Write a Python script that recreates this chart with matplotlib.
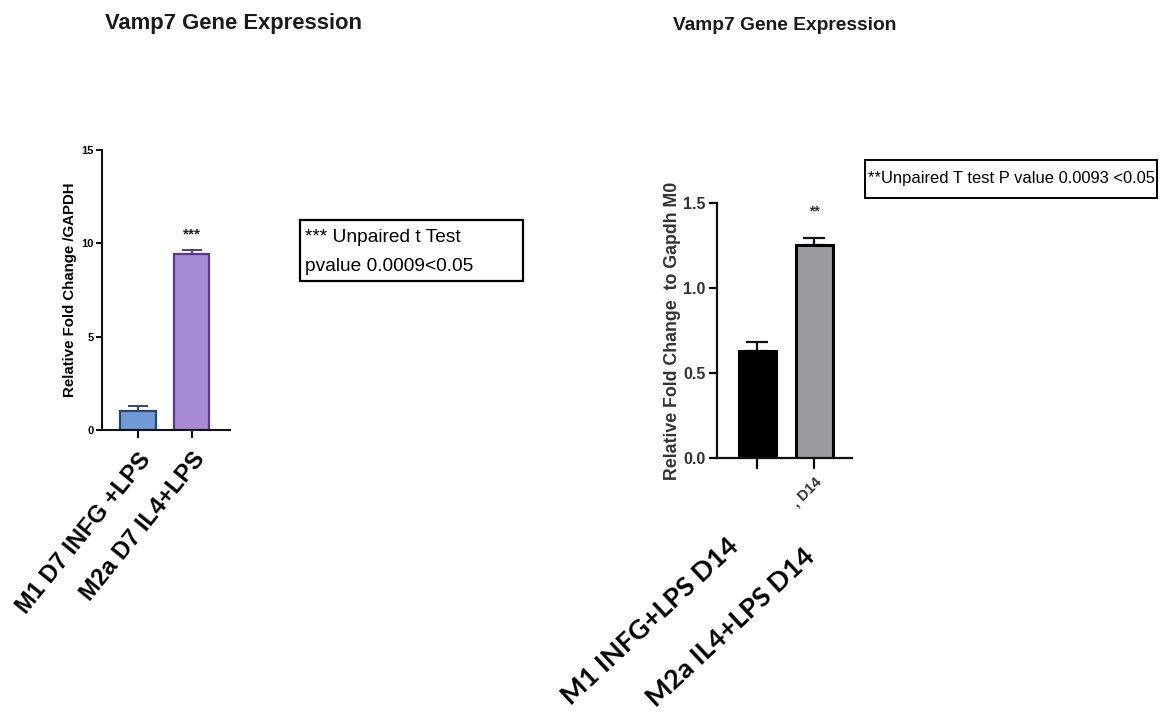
import matplotlib
matplotlib.use("Agg")
import matplotlib.pyplot as plt
from matplotlib.patches import Rectangle
import matplotlib.transforms as mtransforms
import numpy as np

# --- data ---------------------------------------------------------------
d7_groups = ["M1 D7 INFG +LPS", "M2a D7 IL4+LPS"]
d7_mean = [1.0, 9.43]
d7_err = [0.27, 0.21]
d7_face = ["#709bd6", "#a68ad4"]
d7_edge = ["#2c4672", "#573a8a"]
d7_yticks = [0, 5, 10, 15]

d14_groups = ["M1 INFG+LPS D14", "M2a IL4+LPS D14"]
d14_tick_text = ["", ", D14"]
d14_mean = [0.63, 1.25]
d14_err = [0.05, 0.04]
d14_face = ["#000000", "#9c9ca0"]
d14_yticks = [0.0, 0.5, 1.0, 1.5]

W, H = 1162, 713
ARIAL = ["Liberation Sans", "DejaVu Sans"]
plt.rcParams["font.family"] = ARIAL

fig = plt.figure(figsize=(W / 100, H / 100), dpi=100)


def rect(x0, x1, ytop, ybot):
    return [x0 / W, 1 - ybot / H, (x1 - x0) / W, (ybot - ytop) / H]


def fx(px):
    return px / W


def fy(py):
    return 1 - py / H


def style_axes(ax, lw):
    for s in ("top", "right"):
        ax.spines[s].set_visible(False)
    for s in ("left", "bottom"):
        ax.spines[s].set_linewidth(lw)
        ax.spines[s].set_color("#111111")


def framed_box(x0, x1, ytop, ybot, lw):
    fig.add_artist(Rectangle((fx(x0), fy(ybot)), fx(x1) - fx(x0),
                             fy(ytop) - fy(ybot), transform=fig.transFigure,
                             facecolor="white", edgecolor="black",
                             linewidth=lw))


# --- Day 7 panel --------------------------------------------------------
ax1 = fig.add_axes(rect(101.7, 230, 150, 430))
x1 = np.arange(len(d7_groups))
ax1.bar(x1, d7_mean, width=0.67, color=d7_face, edgecolor=d7_edge,
        linewidth=1.6, zorder=2)
for i in range(len(x1)):
    ax1.errorbar(x1[i], d7_mean[i], yerr=[[0], [d7_err[i]]], fmt="none",
                 ecolor=d7_edge[i], elinewidth=1.4, capsize=7, capthick=1.4,
                 zorder=1)
ax1.set_xlim(-0.68, 1.72)
ax1.set_ylim(0, 15)
ax1.set_yticks(d7_yticks)
ax1.set_yticklabels([str(v) for v in d7_yticks], fontsize=8, fontweight="bold")
ax1.set_xticks(x1)
ax1.set_xticklabels(d7_groups, rotation=51, ha="right", va="top",
                    rotation_mode="anchor", fontsize=17, fontweight="bold")
shift = mtransforms.ScaledTranslation(-6 / 100, 0, fig.dpi_scale_trans)
for lab in ax1.get_xticklabels():
    lab.set_transform(lab.get_transform() + shift)
ax1.tick_params(axis="y", length=4, width=1.4, pad=2)
ax1.tick_params(axis="x", length=6, width=1.4, pad=7)
style_axes(ax1, 1.5)
ax1.set_ylabel("Relative Fold Change /GAPDH", fontsize=10.8,
               fontweight="bold")
ax1.yaxis.set_label_coords(-(101.7 - 77) / 128.3, 0.5)
ax1.text(1, 10.45, "***", ha="center", va="center", fontsize=11,
         fontweight="bold", color="#222222")

fig.text(fx(105), fy(23), "Vamp7 Gene Expression", ha="left",
         va="center", fontsize=15.8, fontweight="bold", color="#1a1a1a")

framed_box(300, 523, 220, 281, 1.6)
fig.text(fx(305), fy(237), "*** Unpaired t Test", ha="left", va="center",
         fontsize=13.8)
fig.text(fx(305), fy(266), "pvalue 0.0009<0.05", ha="left", va="center",
         fontsize=13.8)

# --- Day 14 panel -------------------------------------------------------
ax2 = fig.add_axes(rect(716.7, 851.7, 202.7, 458.3))
x2 = np.arange(len(d14_groups))
ax2.bar(x2, d14_mean, width=0.65, color=d14_face, edgecolor="black",
        linewidth=2.2, zorder=2)
for i in range(len(x2)):
    ax2.errorbar(x2[i], d14_mean[i], yerr=[[0], [d14_err[i]]], fmt="none",
                 ecolor="#111111", elinewidth=1.6, capsize=8, capthick=1.6,
                 zorder=1)
ax2.set_xlim(-0.716, 1.66)
ax2.set_ylim(0, 1.5)
ax2.set_yticks(d14_yticks)
ax2.set_yticklabels([f"{v:.1f}" for v in d14_yticks], fontsize=11.5,
                    fontweight="bold", color="#333333")
ax2.set_xticks(x2)
ax2.set_xticklabels(d14_tick_text, rotation=45, ha="right", va="top",
                    rotation_mode="anchor", fontsize=10.5, fontweight="bold",
                    color="#333333")
ax2.tick_params(axis="y", length=6, width=1.6, pad=2)
ax2.tick_params(axis="x", length=8, width=1.6, pad=4)
style_axes(ax2, 1.6)
ax2.set_ylabel("Relative Fold Change  to Gapdh M0", fontsize=12.8,
               fontweight="bold", color="#333333")
ax2.yaxis.set_label_coords(-(716.7 - 681) / 135, 0.5)
ax2.text(1, 1.447, "**", ha="center", va="center", fontsize=10,
         fontweight="bold", color="#333333")

fig.text(fx(673), fy(25), "Vamp7 Gene Expression", ha="left",
         va="center", fontsize=13.8, fontweight="bold", color="#1a1a1a")

framed_box(865, 1157, 160, 198, 1.4)
fig.text(fx(868), fy(179), "**Unpaired T test P value 0.0093 <0.05",
         ha="left", va="center", fontsize=11.9)

# group names written diagonally under the Day 14 panel
big = dict(rotation=43, rotation_mode="anchor", ha="right", va="top",
           fontsize=19.5, fontweight="bold", family=["Lato", "DejaVu Sans"],
           color="black")
fig.text(fx(727), fy(533), d14_groups[0], **big)
fig.text(fx(803), fy(544), d14_groups[1], **big)

fig.savefig("out.png", dpi=100, facecolor="white")
